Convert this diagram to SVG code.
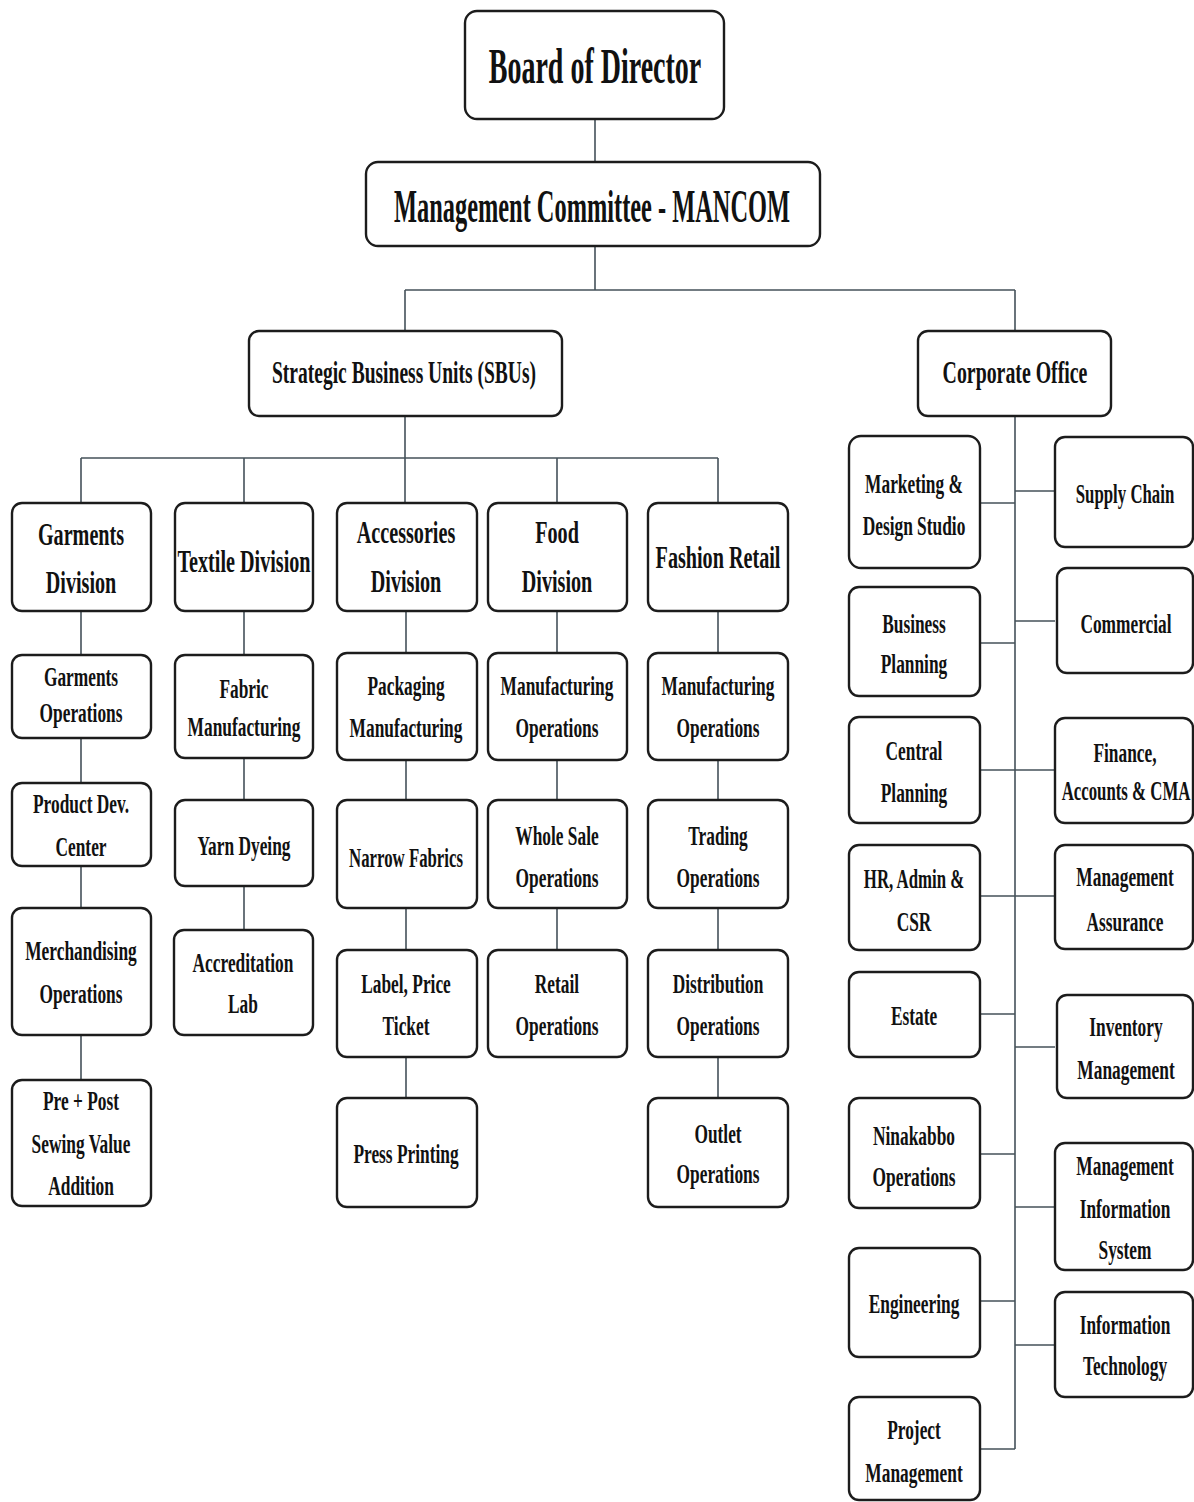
<svg xmlns="http://www.w3.org/2000/svg" width="1194" height="1502" viewBox="0 0 1194 1502" xml:space="preserve">
<style>
.bx{fill:#fff;stroke:#1c1c1c;stroke-width:2.4}
.cn{fill:none;stroke:#45525a;stroke-width:1.6}
text{font-family:"Liberation Serif","Times New Roman",serif;font-weight:bold;fill:#111;text-anchor:middle}
.t0{font-size:50px}.t1{font-size:46px}.t2{font-size:32px}.t3{font-size:28px}
</style>
<rect width="1194" height="1502" fill="#fff"/>
<g id="connectors" class="cn">
<path d="M595,119V162M595,246V290M405,290H1015M405,290V331M1015,290V331M405,416V458M81,458H718M81,458V503M244,458V503M405,458V503M557,458V503M718,458V503"/>
<path d="M81,611V655M81,738V783M81,866V908M81,1035V1080"/>
<path d="M244,611V655M244,758V800M244,886V930"/>
<path d="M406,611V653M406,760V800M406,908V950M406,1057V1098"/>
<path d="M557,611V653M557,760V800M557,908V950"/>
<path d="M718,611V653M718,760V800M718,908V950M718,1057V1098"/>
<path d="M1015,416V1449M980,503H1015M980,643H1015M980,770H1015M980,896H1015M980,1014H1015M980,1154H1015M980,1301H1015M980,1449H1015"/>
<path d="M1015,491H1055M1015,621H1055M1015,770H1055M1015,896H1055M1015,1047H1055M1015,1207H1055M1015,1345H1055"/>
</g>
<g id="board"><rect class="bx" x="465" y="11" width="259" height="108" rx="12"/><text class="t0" transform="translate(595,83) scale(0.56,1)">Board of Director</text></g>
<g id="mancom"><rect class="bx" x="366" y="162" width="454" height="84" rx="12"/><text class="t1" transform="translate(592,222) scale(0.53,1)">Management Committee - MANCOM</text></g>
<g id="sbu"><rect class="bx" x="249" y="331" width="313" height="85" rx="10"/><text class="t2" transform="translate(404,383) scale(0.61,1)">Strategic Business Units  (SBUs)</text></g>
<g id="corporate"><rect class="bx" x="918" y="331" width="193" height="85" rx="10"/><text class="t2" transform="translate(1015,383) scale(0.62,1)">Corporate Office</text></g>

<g id="garments-division"><rect class="bx" x="12" y="503" width="139" height="108" rx="10"/><text class="t2" transform="translate(81,545) scale(0.63,1)">Garments</text><text class="t2" transform="translate(81,593) scale(0.63,1)">Division</text></g>
<g id="textile-division"><rect class="bx" x="175" y="503" width="138" height="108" rx="10"/><text class="t2" transform="translate(244,572) scale(0.63,1)">Textile Division</text></g>
<g id="accessories-division"><rect class="bx" x="337" y="503" width="140" height="108" rx="10"/><text class="t2" transform="translate(406,543) scale(0.63,1)">Accessories</text><text class="t2" transform="translate(406,592) scale(0.63,1)">Division</text></g>
<g id="food-division"><rect class="bx" x="488" y="503" width="139" height="108" rx="10"/><text class="t2" transform="translate(557,543) scale(0.63,1)">Food</text><text class="t2" transform="translate(557,592) scale(0.63,1)">Division</text></g>
<g id="fashion-retail"><rect class="bx" x="648" y="503" width="140" height="108" rx="10"/><text class="t2" transform="translate(718,568) scale(0.63,1)">Fashion Retail</text></g>

<g id="garments-operations"><rect class="bx" x="12" y="655" width="139" height="83" rx="10"/><text class="t3" transform="translate(81,686) scale(0.62,1)">Garments</text><text class="t3" transform="translate(81,722) scale(0.62,1)">Operations</text></g>
<g id="product-dev"><rect class="bx" x="12" y="783" width="139" height="83" rx="10"/><text class="t3" transform="translate(81,813) scale(0.62,1)">Product  Dev.</text><text class="t3" transform="translate(81,856) scale(0.62,1)">Center</text></g>
<g id="merchandising"><rect class="bx" x="12" y="908" width="139" height="127" rx="10"/><text class="t3" transform="translate(81,960) scale(0.62,1)">Merchandising</text><text class="t3" transform="translate(81,1003) scale(0.62,1)">Operations</text></g>
<g id="pre-post-sewing"><rect class="bx" x="12" y="1080" width="139" height="126" rx="10"/><text class="t3" transform="translate(81,1110) scale(0.62,1)">Pre  + Post</text><text class="t3" transform="translate(81,1153) scale(0.62,1)">Sewing Value</text><text class="t3" transform="translate(81,1195) scale(0.62,1)">Addition</text></g>

<g id="fabric-manufacturing"><rect class="bx" x="175" y="655" width="138" height="103" rx="10"/><text class="t3" transform="translate(244,698) scale(0.62,1)">Fabric</text><text class="t3" transform="translate(244,736) scale(0.62,1)">Manufacturing</text></g>
<g id="yarn-dyeing"><rect class="bx" x="175" y="800" width="138" height="86" rx="10"/><text class="t3" transform="translate(244,855) scale(0.62,1)">Yarn  Dyeing</text></g>
<g id="accreditation-lab"><rect class="bx" x="174" y="930" width="139" height="105" rx="10"/><text class="t3" transform="translate(243,972) scale(0.62,1)">Accreditation</text><text class="t3" transform="translate(243,1013) scale(0.62,1)">Lab</text></g>

<g id="packaging-manufacturing"><rect class="bx" x="337" y="653" width="140" height="107" rx="10"/><text class="t3" transform="translate(406,695) scale(0.62,1)">Packaging</text><text class="t3" transform="translate(406,737) scale(0.62,1)">Manufacturing</text></g>
<g id="narrow-fabrics"><rect class="bx" x="337" y="800" width="140" height="108" rx="10"/><text class="t3" transform="translate(406,867) scale(0.6,1)">Narrow  Fabrics</text></g>
<g id="label-price-ticket"><rect class="bx" x="337" y="950" width="140" height="107" rx="10"/><text class="t3" transform="translate(406,993) scale(0.62,1)">Label,  Price</text><text class="t3" transform="translate(406,1035) scale(0.62,1)">Ticket</text></g>
<g id="press-printing"><rect class="bx" x="337" y="1098" width="140" height="109" rx="10"/><text class="t3" transform="translate(406,1163) scale(0.62,1)">Press Printing</text></g>

<g id="food-manufacturing"><rect class="bx" x="488" y="653" width="139" height="107" rx="10"/><text class="t3" transform="translate(557,695) scale(0.62,1)">Manufacturing</text><text class="t3" transform="translate(557,737) scale(0.62,1)">Operations</text></g>
<g id="whole-sale"><rect class="bx" x="488" y="800" width="139" height="108" rx="10"/><text class="t3" transform="translate(557,845) scale(0.62,1)">Whole Sale</text><text class="t3" transform="translate(557,887) scale(0.62,1)">Operations</text></g>
<g id="retail-operations"><rect class="bx" x="488" y="950" width="139" height="107" rx="10"/><text class="t3" transform="translate(557,993) scale(0.62,1)">Retail</text><text class="t3" transform="translate(557,1035) scale(0.62,1)">Operations</text></g>

<g id="fashion-manufacturing"><rect class="bx" x="648" y="653" width="140" height="107" rx="10"/><text class="t3" transform="translate(718,695) scale(0.62,1)">Manufacturing</text><text class="t3" transform="translate(718,737) scale(0.62,1)">Operations</text></g>
<g id="trading"><rect class="bx" x="648" y="800" width="140" height="108" rx="10"/><text class="t3" transform="translate(718,845) scale(0.62,1)">Trading</text><text class="t3" transform="translate(718,887) scale(0.62,1)">Operations</text></g>
<g id="distribution"><rect class="bx" x="648" y="950" width="140" height="107" rx="10"/><text class="t3" transform="translate(718,993) scale(0.62,1)">Distribution</text><text class="t3" transform="translate(718,1035) scale(0.62,1)">Operations</text></g>
<g id="outlet"><rect class="bx" x="648" y="1098" width="140" height="109" rx="10"/><text class="t3" transform="translate(718,1143) scale(0.62,1)">Outlet</text><text class="t3" transform="translate(718,1183) scale(0.62,1)">Operations</text></g>

<g id="marketing-design"><rect class="bx" x="849" y="436" width="131" height="132" rx="12"/><text class="t3" transform="translate(914,493) scale(0.62,1)">Marketing &amp;</text><text class="t3" transform="translate(914,535) scale(0.62,1)">Design Studio</text></g>
<g id="business-planning"><rect class="bx" x="849" y="587" width="131" height="109" rx="10"/><text class="t3" transform="translate(914,633) scale(0.62,1)">Business</text><text class="t3" transform="translate(914,673) scale(0.62,1)">Planning</text></g>
<g id="central-planning"><rect class="bx" x="849" y="717" width="131" height="106" rx="10"/><text class="t3" transform="translate(914,760) scale(0.62,1)">Central</text><text class="t3" transform="translate(914,802) scale(0.62,1)">Planning</text></g>
<g id="hr-admin-csr"><rect class="bx" x="849" y="845" width="131" height="105" rx="10"/><text class="t3" transform="translate(914,888) scale(0.6,1)">HR,  Admin  &amp;</text><text class="t3" transform="translate(914,931) scale(0.62,1)">CSR</text></g>
<g id="estate"><rect class="bx" x="849" y="972" width="131" height="85" rx="10"/><text class="t3" transform="translate(914,1025) scale(0.62,1)">Estate</text></g>
<g id="ninakabbo"><rect class="bx" x="849" y="1098" width="131" height="110" rx="10"/><text class="t3" transform="translate(914,1145) scale(0.62,1)">Ninakabbo</text><text class="t3" transform="translate(914,1186) scale(0.62,1)">Operations</text></g>
<g id="engineering"><rect class="bx" x="849" y="1248" width="131" height="109" rx="10"/><text class="t3" transform="translate(914,1313) scale(0.62,1)">Engineering</text></g>
<g id="project-management"><rect class="bx" x="849" y="1397" width="131" height="103" rx="10"/><text class="t3" transform="translate(914,1439) scale(0.62,1)">Project</text><text class="t3" transform="translate(914,1482) scale(0.62,1)">Management</text></g>

<g id="supply-chain"><rect class="bx" x="1055" y="437" width="138" height="110" rx="10"/><text class="t3" transform="translate(1125,503) scale(0.6,1)">Supply  Chain</text></g>
<g id="commercial"><rect class="bx" x="1057" y="568" width="136" height="105" rx="10"/><text class="t3" transform="translate(1126,633) scale(0.62,1)">Commercial</text></g>
<g id="finance"><rect class="bx" x="1055" y="718" width="138" height="105" rx="10"/><text class="t3" transform="translate(1125,762) scale(0.62,1)">Finance,</text><text class="t3" transform="translate(1126,800) scale(0.6,1)">Accounts  &amp; CMA</text></g>
<g id="management-assurance"><rect class="bx" x="1055" y="845" width="138" height="104" rx="10"/><text class="t3" transform="translate(1125,886) scale(0.62,1)">Management</text><text class="t3" transform="translate(1125,931) scale(0.62,1)">Assurance</text></g>
<g id="inventory-management"><rect class="bx" x="1057" y="995" width="136" height="103" rx="10"/><text class="t3" transform="translate(1126,1036) scale(0.62,1)">Inventory</text><text class="t3" transform="translate(1126,1079) scale(0.62,1)">Management</text></g>
<g id="mis"><rect class="bx" x="1055" y="1143" width="138" height="127" rx="10"/><text class="t3" transform="translate(1125,1175) scale(0.62,1)">Management</text><text class="t3" transform="translate(1125,1218) scale(0.62,1)">Information</text><text class="t3" transform="translate(1125,1259) scale(0.62,1)">System</text></g>
<g id="information-technology"><rect class="bx" x="1055" y="1292" width="138" height="105" rx="10"/><text class="t3" transform="translate(1125,1334) scale(0.62,1)">Information</text><text class="t3" transform="translate(1125,1375) scale(0.62,1)">Technology</text></g>
</svg>
